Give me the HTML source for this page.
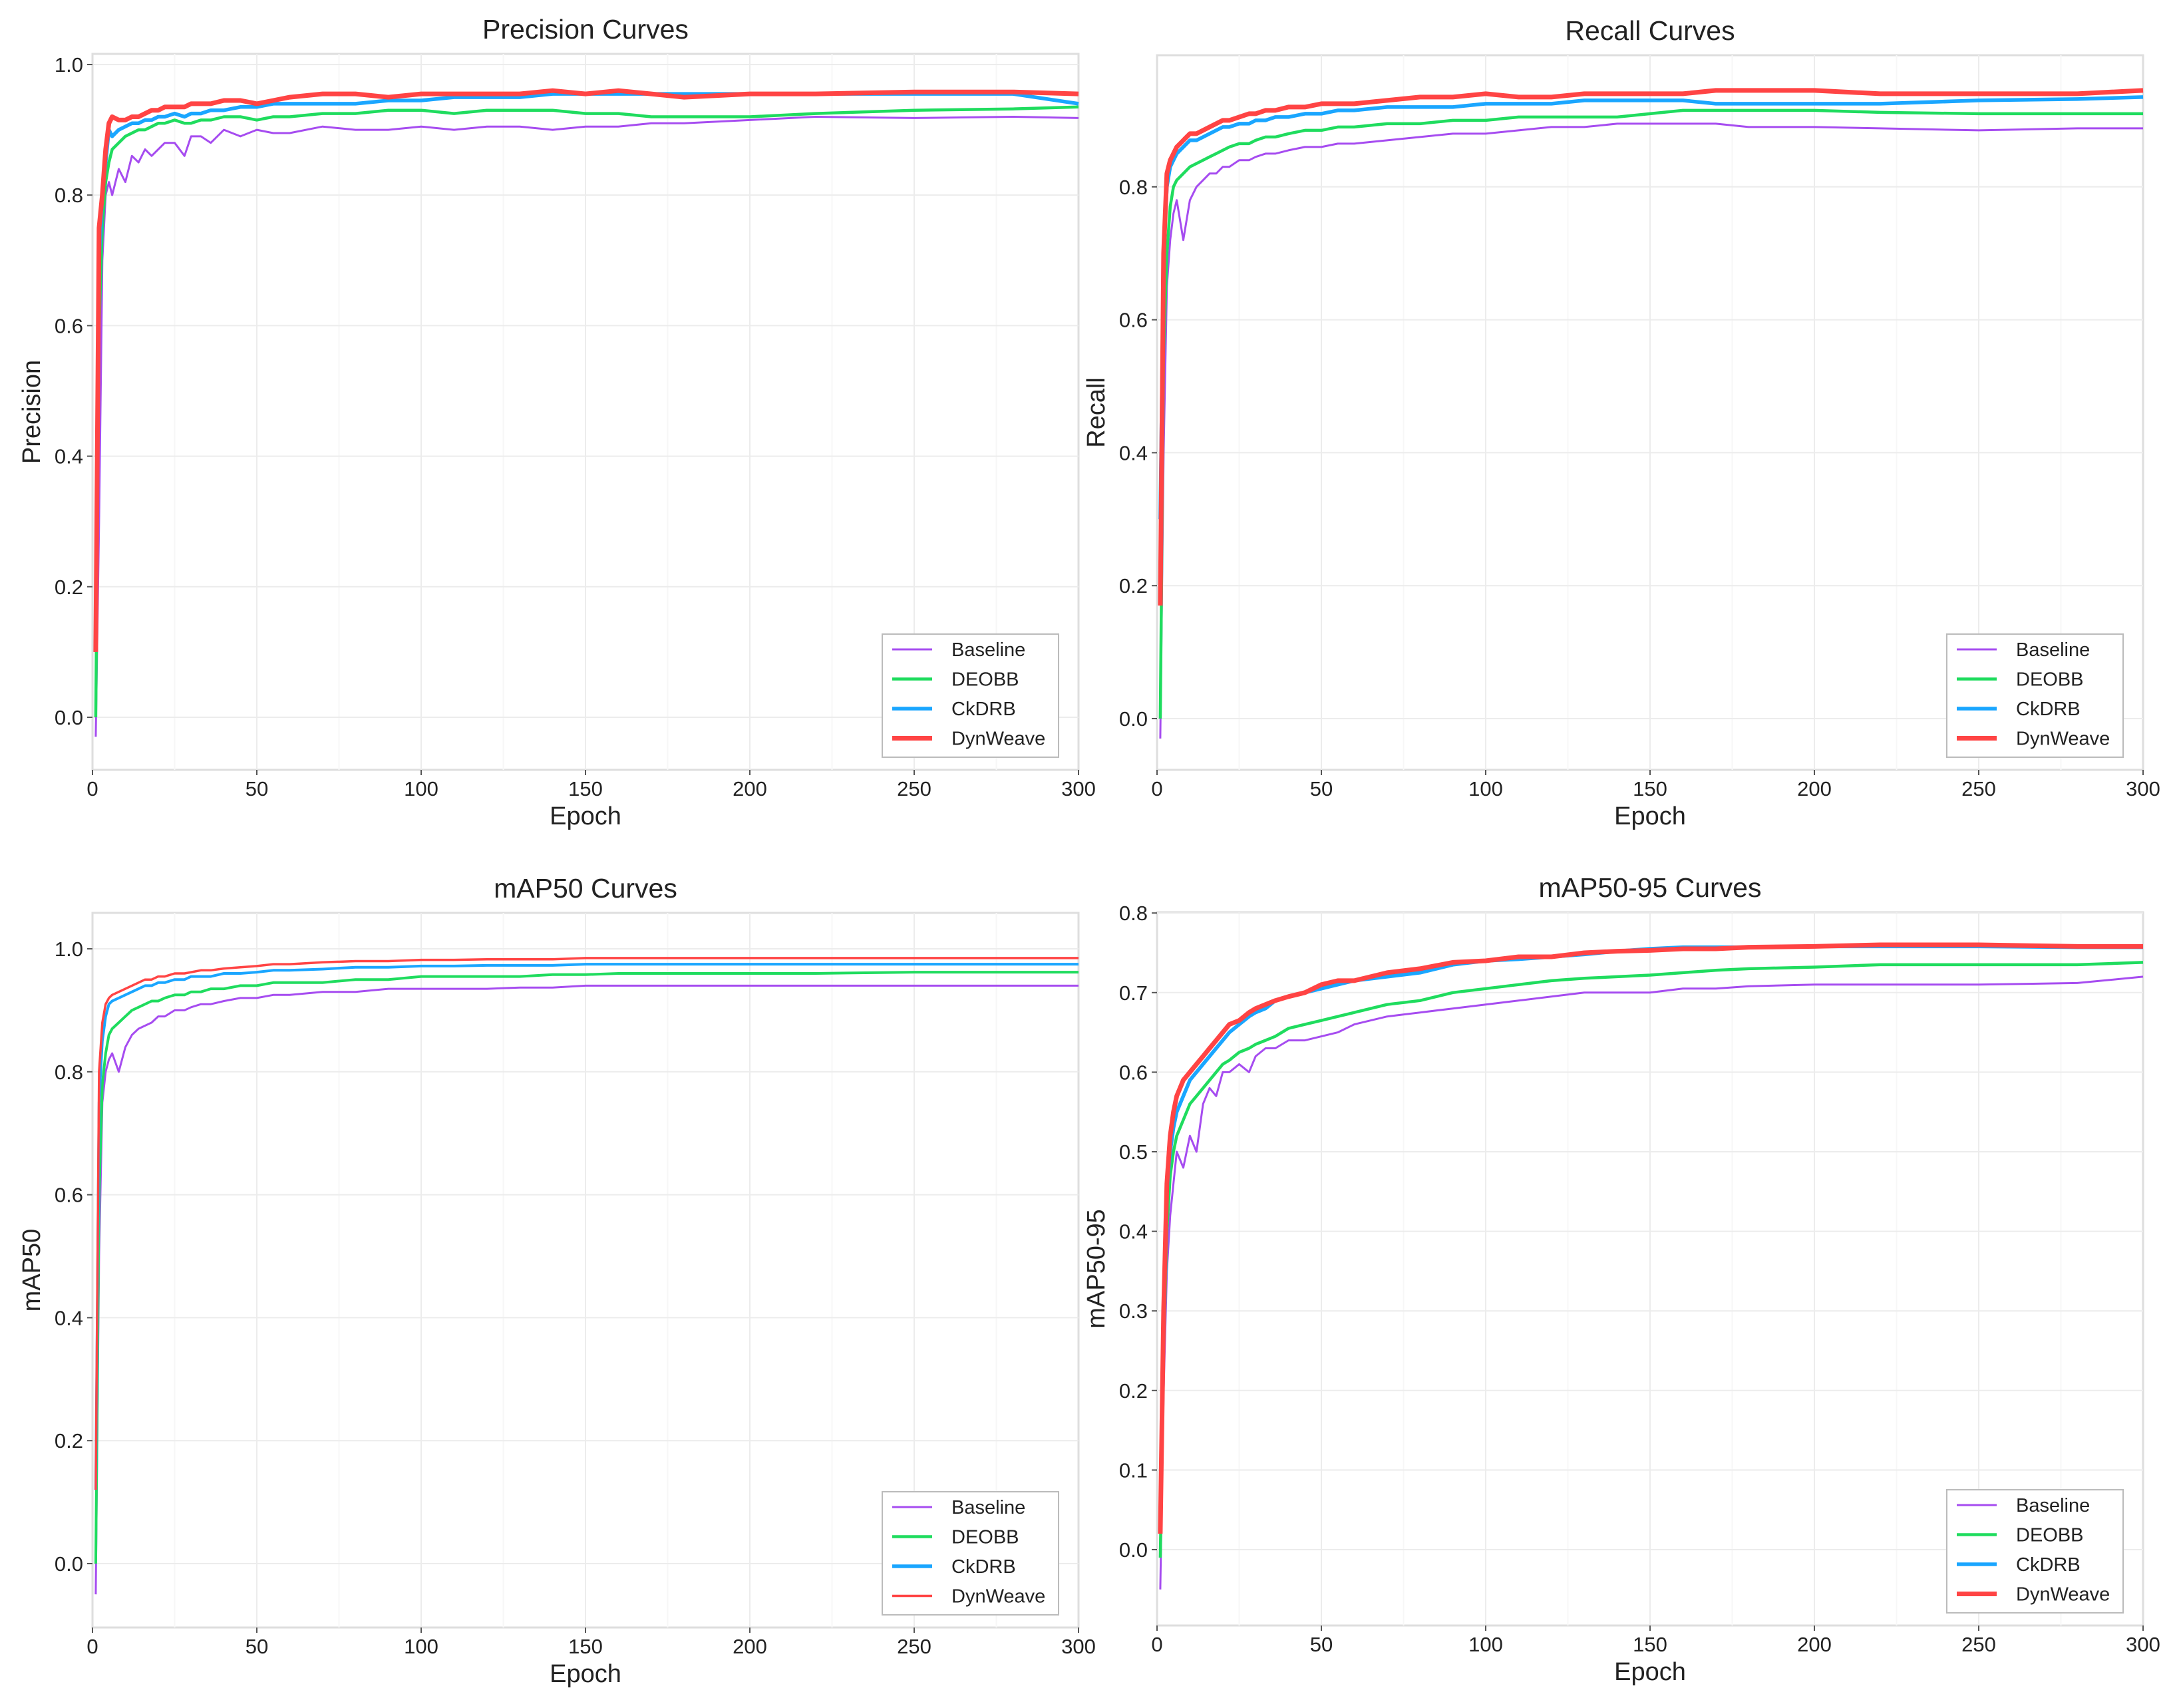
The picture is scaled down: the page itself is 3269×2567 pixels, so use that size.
<!DOCTYPE html>
<html><head><meta charset="utf-8"><style>
body{margin:0;background:#fff}
svg text{font-family:"Liberation Sans",Arial,sans-serif;fill:#222}
</style></head><body>
<svg id="fig" xmlns="http://www.w3.org/2000/svg" width="3269" height="2562" viewBox="0 0 3269 2562">
<rect width="3269" height="2562" fill="#fff"/>
</svg>
<script>
const epochs=[1,2,3,4,5,6,8,10,12,14,16,18,20,22,25,28,30,33,36,40,45,50,55,60,70,80,90,100,110,120,130,140,150,160,170,180,200,220,250,280,300];
const seriesNames=["Baseline","DEOBB","CkDRB","DynWeave"];
const precBaseline=[-0.03,0.3,0.7,0.8,0.82,0.8,0.84,0.82,0.86,0.85,0.87,0.86,0.87,0.88,0.88,0.86,0.89,0.89,0.88,0.9,0.89,0.9,0.895,0.895,0.905,0.9,0.9,0.905,0.9,0.905,0.905,0.9,0.905,0.905,0.91,0.91,0.915,0.92,0.918,0.92,0.918];
const precDEOBB=[0.0,0.6,0.75,0.82,0.85,0.87,0.88,0.89,0.895,0.9,0.9,0.905,0.91,0.91,0.915,0.91,0.91,0.915,0.915,0.92,0.92,0.915,0.92,0.92,0.925,0.925,0.93,0.93,0.925,0.93,0.93,0.93,0.925,0.925,0.92,0.92,0.92,0.925,0.93,0.932,0.935];
const precCkDRB=[0.1,0.7,0.8,0.85,0.9,0.89,0.9,0.905,0.91,0.91,0.915,0.915,0.92,0.92,0.925,0.92,0.925,0.925,0.93,0.93,0.935,0.935,0.94,0.94,0.94,0.94,0.945,0.945,0.95,0.95,0.95,0.955,0.955,0.955,0.955,0.955,0.955,0.955,0.955,0.955,0.94];
const precDyn=[0.1,0.75,0.8,0.87,0.91,0.92,0.915,0.915,0.92,0.92,0.925,0.93,0.93,0.935,0.935,0.935,0.94,0.94,0.94,0.945,0.945,0.94,0.945,0.95,0.955,0.955,0.95,0.955,0.955,0.955,0.955,0.96,0.955,0.96,0.955,0.95,0.955,0.955,0.958,0.958,0.955];
const recBaseline=[-0.03,0.4,0.65,0.72,0.76,0.78,0.72,0.78,0.8,0.81,0.82,0.82,0.83,0.83,0.84,0.84,0.845,0.85,0.85,0.855,0.86,0.86,0.865,0.865,0.87,0.875,0.88,0.88,0.885,0.89,0.89,0.895,0.895,0.895,0.895,0.89,0.89,0.888,0.885,0.888,0.888];
const recDEOBB=[0.0,0.55,0.7,0.77,0.8,0.81,0.82,0.83,0.835,0.84,0.845,0.85,0.855,0.86,0.865,0.865,0.87,0.875,0.875,0.88,0.885,0.885,0.89,0.89,0.895,0.895,0.9,0.9,0.905,0.905,0.905,0.905,0.91,0.915,0.915,0.915,0.915,0.912,0.91,0.91,0.91];
const recCkDRB=[0.3,0.7,0.8,0.83,0.84,0.85,0.86,0.87,0.87,0.875,0.88,0.885,0.89,0.89,0.895,0.895,0.9,0.9,0.905,0.905,0.91,0.91,0.915,0.915,0.92,0.92,0.92,0.925,0.925,0.925,0.93,0.93,0.93,0.93,0.925,0.925,0.925,0.925,0.93,0.932,0.935];
const recDyn=[0.17,0.7,0.82,0.84,0.85,0.86,0.87,0.88,0.88,0.885,0.89,0.895,0.9,0.9,0.905,0.91,0.91,0.915,0.915,0.92,0.92,0.925,0.925,0.925,0.93,0.935,0.935,0.94,0.935,0.935,0.94,0.94,0.94,0.94,0.945,0.945,0.945,0.94,0.94,0.94,0.945];
const m50Baseline=[-0.05,0.5,0.75,0.8,0.82,0.83,0.8,0.84,0.86,0.87,0.875,0.88,0.89,0.89,0.9,0.9,0.905,0.91,0.91,0.915,0.92,0.92,0.925,0.925,0.93,0.93,0.935,0.935,0.935,0.935,0.937,0.937,0.94,0.94,0.94,0.94,0.94,0.94,0.94,0.94,0.94];
const m50DEOBB=[0.0,0.6,0.78,0.83,0.86,0.87,0.88,0.89,0.9,0.905,0.91,0.915,0.915,0.92,0.925,0.925,0.93,0.93,0.935,0.935,0.94,0.94,0.945,0.945,0.945,0.95,0.95,0.955,0.955,0.955,0.955,0.958,0.958,0.96,0.96,0.96,0.96,0.96,0.962,0.962,0.962];
const m50CkDRB=[0.12,0.75,0.85,0.89,0.91,0.915,0.92,0.925,0.93,0.935,0.94,0.94,0.945,0.945,0.95,0.95,0.955,0.955,0.955,0.96,0.96,0.962,0.965,0.965,0.967,0.97,0.97,0.972,0.972,0.973,0.973,0.973,0.975,0.975,0.975,0.975,0.975,0.975,0.975,0.975,0.975];
const m50Dyn=[0.12,0.8,0.88,0.91,0.92,0.925,0.93,0.935,0.94,0.945,0.95,0.95,0.955,0.955,0.96,0.96,0.962,0.965,0.965,0.968,0.97,0.972,0.975,0.975,0.978,0.98,0.98,0.982,0.982,0.983,0.983,0.983,0.985,0.985,0.985,0.985,0.985,0.985,0.985,0.985,0.985];
const m95Baseline=[-0.05,0.2,0.35,0.42,0.46,0.5,0.48,0.52,0.5,0.56,0.58,0.57,0.6,0.6,0.61,0.6,0.62,0.63,0.63,0.64,0.64,0.645,0.65,0.66,0.67,0.675,0.68,0.685,0.69,0.695,0.7,0.7,0.7,0.705,0.705,0.708,0.71,0.71,0.71,0.712,0.72];
const m95DEOBB=[-0.01,0.25,0.4,0.47,0.5,0.52,0.54,0.56,0.57,0.58,0.59,0.6,0.61,0.615,0.625,0.63,0.635,0.64,0.645,0.655,0.66,0.665,0.67,0.675,0.685,0.69,0.7,0.705,0.71,0.715,0.718,0.72,0.722,0.725,0.728,0.73,0.732,0.735,0.735,0.735,0.738];
const m95CkDRB=[0.03,0.3,0.45,0.5,0.53,0.55,0.57,0.59,0.6,0.61,0.62,0.63,0.64,0.65,0.66,0.67,0.675,0.68,0.69,0.695,0.7,0.705,0.71,0.715,0.72,0.725,0.735,0.74,0.742,0.745,0.748,0.752,0.755,0.757,0.757,0.757,0.758,0.758,0.758,0.757,0.757];
const m95Dyn=[0.02,0.3,0.46,0.52,0.55,0.57,0.59,0.6,0.61,0.62,0.63,0.64,0.65,0.66,0.665,0.675,0.68,0.685,0.69,0.695,0.7,0.71,0.715,0.715,0.725,0.73,0.738,0.74,0.745,0.745,0.75,0.752,0.753,0.755,0.755,0.757,0.758,0.76,0.76,0.758,0.758];
const xTicks=[0,50,100,150,200,250,300];
const yTicksA=[0,0.2,0.4,0.6,0.8,1.0];
const yTicksB=[0,0.2,0.4,0.6,0.8];
const yTicksC=[0,0.1,0.2,0.3,0.4,0.5,0.6,0.7,0.8];

const colors=["#a64cf0","#1fdc5e","#1aa6ff","#ff4444"];
const NS="http://www.w3.org/2000/svg";
const svg=document.getElementById("fig");
function mk(tag,attrs,parent){const e=document.createElementNS(NS,tag);for(const k in attrs)e.setAttribute(k,attrs[k]);(parent||svg).appendChild(e);return e;}

const panels=[
 {key:"precision",title:"Precision Curves",ylab:"Precision",L:139,R:1621,T:81,B:1157,y0:1078,k:981,ticks:yTicksA,data:[precBaseline,precDEOBB,precCkDRB,precDyn],w:[3,4.5,5.5,7],lw:[3,4.5,5.5,7]},
 {key:"recall",title:"Recall Curves",ylab:"Recall",L:1739,R:3221,T:83,B:1157,y0:1080,k:999,ticks:yTicksB,data:[recBaseline,recDEOBB,recCkDRB,recDyn],w:[3,4.5,5.5,7],lw:[3,4.5,5.5,7]},
 {key:"map50",title:"mAP50 Curves",ylab:"mAP50",L:139,R:1621,T:1372,B:2446,y0:2350,k:924,ticks:yTicksA,data:[m50Baseline,m50DEOBB,m50CkDRB,m50Dyn],w:[3,4,4,3.5],lw:[3,4.5,5.5,3.5]},
 {key:"map50-95",title:"mAP50-95 Curves",ylab:"mAP50-95",L:1739,R:3221,T:1371,B:2443,y0:2329,k:1196,ticks:yTicksC,data:[m95Baseline,m95DEOBB,m95CkDRB,m95Dyn],w:[3,4.5,5.5,7],lw:[3,4.5,5.5,7]}
];

panels.forEach(p=>{
 const g=mk("g",{});
 
 
 const xs=v=>p.L+(v/300)*(p.R-p.L);
 const ys=v=>p.y0-v*p.k;
 const frame=mk("rect",{x:p.L,y:p.T,width:p.R-p.L,height:p.B-p.T,fill:"#fff",stroke:"#dedede","stroke-width":3},g);
 
 
 for(let v=25;v<300;v+=25){mk("line",{x1:xs(v),x2:xs(v),y1:p.T,y2:p.B,stroke:v%50?"#f7f7f7":"#ececec","stroke-width":2},g);}
 p.ticks.forEach(t=>{
  mk("line",{x1:p.L,x2:p.R,y1:ys(t),y2:ys(t),stroke:"#ececec","stroke-width":2},g);
  mk("line",{x1:p.L-8,x2:p.L,y1:ys(t),y2:ys(t),stroke:"#555","stroke-width":2},g);
  const tl=mk("text",{x:p.L-14,y:ys(t)+11,"text-anchor":"end","font-size":31},g);
  tl.textContent=t.toFixed(1);
  
  
 });
 xTicks.forEach(t=>{
  mk("line",{x1:xs(t),x2:xs(t),y1:p.B,y2:p.B+8,stroke:"#555","stroke-width":2},g);
  const tl=mk("text",{x:xs(t),y:p.B+39,"text-anchor":"middle","font-size":31},g);
  tl.textContent=t;
  
  
 });
 const cx=(p.L+p.R)/2;
 const tt=mk("text",{x:cx,y:p.T-23,"text-anchor":"middle","font-size":41},g);
 tt.textContent=p.title;
 
 
 const xl=mk("text",{x:cx,y:p.B+82,"text-anchor":"middle","font-size":38},g);
 xl.textContent="Epoch";
 
 
 const ylx=p.L-79, yly=(p.T+p.B)/2;
 const yl=mk("text",{x:ylx,y:yly,"text-anchor":"middle","font-size":38,transform:`rotate(-90 ${ylx} ${yly})`},g);
 yl.textContent=p.ylab;
 
 
 p.data.forEach((arr,i)=>{
  const d=arr.map((v,j)=>(j?"L":"M")+xs(epochs[j]).toFixed(1)+","+ys(v).toFixed(1)).join(" ");
  const path=mk("path",{d:d,fill:"none",stroke:colors[i],"stroke-width":p.w[i],"stroke-linejoin":"round"},g);
  
  
 });
 const lx=p.R-295, ly=p.B-204;
 const lg=mk("g",{},g);
 
 
 mk("rect",{x:lx,y:ly,width:265,height:185,fill:"#fff",stroke:"#bbb","stroke-width":2},lg);
 seriesNames.forEach((n,i)=>{
  const yy=ly+23+i*44.5;
  const e=mk("g",{},lg);
  
  
  mk("line",{x1:lx+15,x2:lx+75,y1:yy,y2:yy,stroke:colors[i],"stroke-width":p.lw[i]},e);
  const t=mk("text",{x:lx+104,y:yy+10,"font-size":29},e);
  t.textContent=n;
 });
});
</script>
</body></html>
